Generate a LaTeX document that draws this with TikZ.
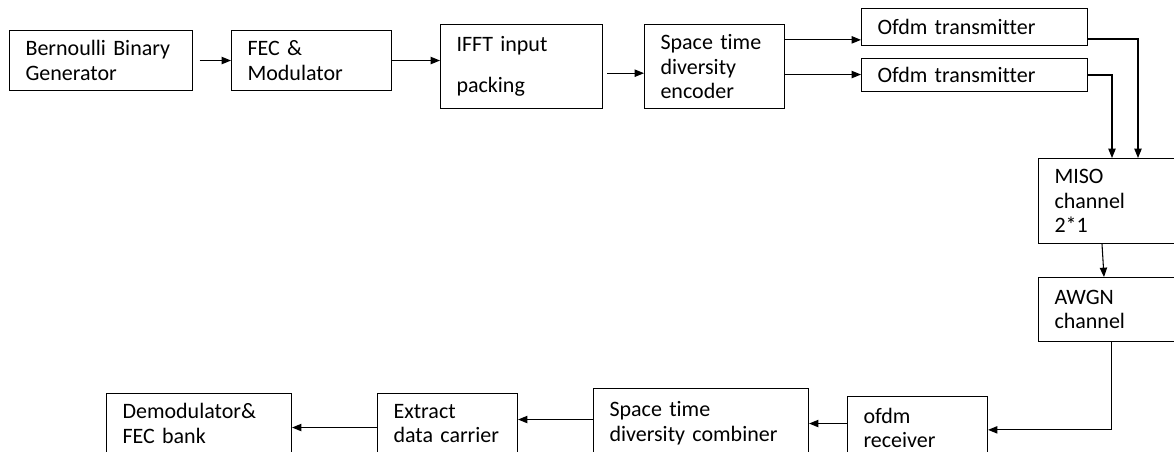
\documentclass[tikz,border=0pt]{standalone}
\usepackage{fontspec}
\setmainfont{Carlito}[Ligatures=NoCommon]
\usetikzlibrary{arrows.meta}
\begin{document}
\begin{tikzpicture}[x=0.75pt,y=-0.75pt,line width=0.8pt,
    >={Triangle[length=7pt,width=5.5pt]},
    blok/.style={draw,anchor=north west,align=left,inner xsep=12pt,inner ysep=2pt,
        font=\fontsize{16.5pt}{18.5pt}\selectfont}]
                \clip (0,0) rectangle (1174,452);

                \node[blok,text width=113.25pt,minimum height=45pt] (gen) at (9,30) {Bernoulli Binary\\Generator};
                \node[blok,text width=96pt,minimum height=45pt] (fec) at (231,30) {FEC \&\\Modulator};
                \node[blok,text width=97.5pt,minimum height=63pt] (ifft) at (440,24) {IFFT input\\[12pt]packing};
                \node[blok,text width=81pt,minimum height=63pt] (stenc) at (644,24) {Space time\\diversity\\encoder};
                \node[blok,text width=145.5pt,minimum height=27.75pt] (tx1) at (861,8) {Ofdm transmitter};
                \node[blok,text width=145.5pt,minimum height=24.75pt] (tx2) at (861,58) {Ofdm transmitter};
                \node[blok,text width=82.5pt,minimum height=63.75pt] (miso) at (1038,158) {MISO\\channel\\2*1};
                \node[blok,text width=82.5pt,minimum height=48pt] (awgn) at (1038,277) {AWGN\\channel};
                \node[blok,text width=81pt,minimum height=47pt] (rx) at (847,396) {ofdm\\receiver};
                \node[blok,text width=137.25pt,minimum height=52.5pt] (comb) at (593,388) {Space time\\diversity combiner};
                \node[blok,text width=81pt,minimum height=45pt] (extr) at (377,393) {Extract\\data carrier};
                \node[blok,text width=114.75pt,minimum height=45pt] (demod) at (106,393) {Demodulator\&\\FEC bank};

                \draw[->,shorten <=5pt] (gen) -- (fec);
                \draw[->] (fec.east) -- (fec.east -| ifft.west);
                \draw[->] ([xshift=3pt,yshift=-5pt]ifft.east) -- ([yshift=-5pt]stenc.west);
                \draw[->] ([yshift=20pt]stenc.east) -- ([yshift=20pt]stenc.east -| tx1.west);
                \draw[->] ([yshift=-6pt]stenc.east) -- ([yshift=-6pt]stenc.east -| tx2.west);
                \draw[->] ([yshift=-9pt]tx1.east) -| ([xshift=75pt]miso.north west);
                \draw[->] (tx2.east) -| ([xshift=55.5pt]miso.north west);
                \draw[->] ([xshift=48pt]miso.south west) -- ([xshift=49.5pt]awgn.north west);
                \draw[->] ([xshift=55pt]awgn.south west) |- ([yshift=-1.5pt]rx.east);
                \draw[->] (rx.west |- comb.east) -- (comb.east);
                \draw[->] ([yshift=3pt]comb.west) -- ([yshift=3pt]extr.east);
                \draw[->] ([yshift=-3pt]extr.west) -- ([yshift=-3pt]demod.east);
\end{tikzpicture}
\end{document}
